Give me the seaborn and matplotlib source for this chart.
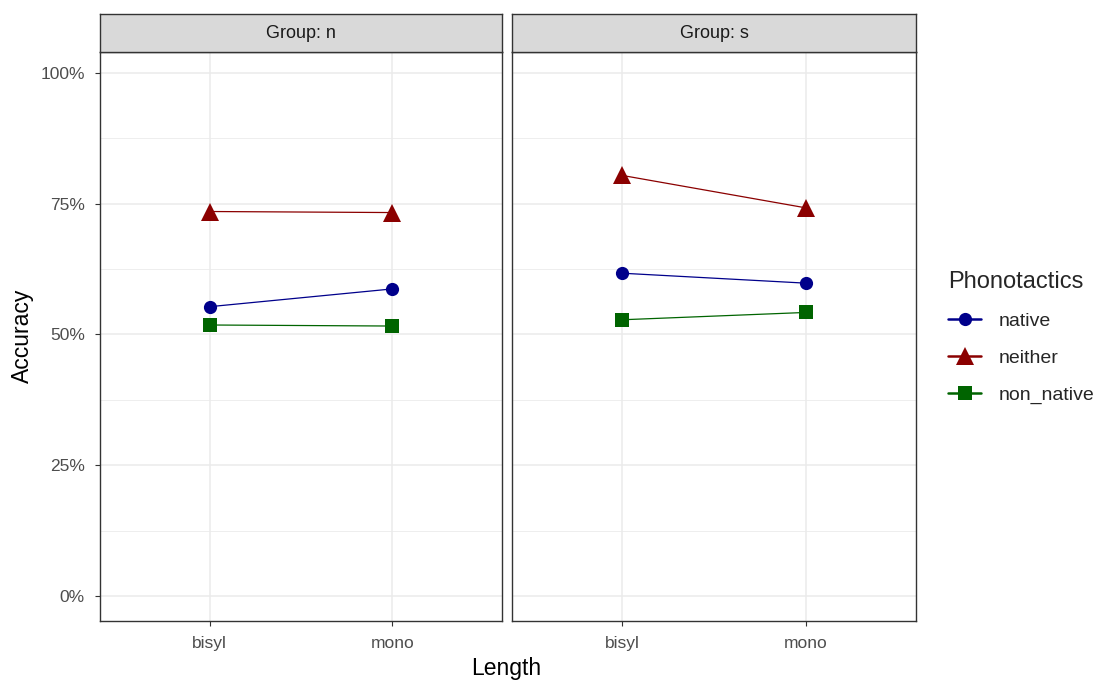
import matplotlib
matplotlib.use("Agg")
import matplotlib.pyplot as plt
import seaborn as sns
import pandas as pd
from matplotlib.lines import Line2D
from matplotlib.ticker import FixedLocator

# Mean accuracy per group, word length and phonotactic condition
groups = ["n", "s"]
lengths = ["bisyl", "mono"]
phonotactics = ["native", "neither", "non_native"]
acc_native = {"n": [0.553, 0.587], "s": [0.617, 0.598]}
acc_neither = {"n": [0.735, 0.733], "s": [0.804, 0.742]}
acc_non_native = {"n": [0.518, 0.516], "s": [0.528, 0.542]}

palette = {"native": "#00008B", "neither": "#8B0000", "non_native": "#006400"}
markers = {"native": "o", "neither": "^", "non_native": "s"}
marker_sizes = {"o": 9.5, "^": 12.5, "s": 9.5}

rows = []
for g in groups:
    for series_name, vals in (("native", acc_native), ("neither", acc_neither),
                              ("non_native", acc_non_native)):
        for length, v in zip(lengths, vals[g]):
            rows.append({"Group": g, "Length": length,
                         "Phonotactics": series_name, "Accuracy": v})
df = pd.DataFrame(rows)

sns.set_theme(style="white")
plt.rcParams["font.family"] = ["Liberation Sans", "DejaVu Sans"]

W, H = 1098, 682
fig = plt.figure(figsize=(W / 100, H / 100), dpi=100)

panel_px = [(100, 502), (512, 916)]
top_px, strip_bot_px, bot_px = 14, 52, 621
edge = "#333333"
grid_col = "#EBEBEB"

for i, (g, (x0, x1)) in enumerate(zip(groups, panel_px)):
    ax = fig.add_axes([x0 / W, 1 - bot_px / H, (x1 - x0) / W, (bot_px - strip_bot_px) / H])
    sub = df[df["Group"] == g]
    sns.pointplot(data=sub, x="Length", y="Accuracy", hue="Phonotactics",
                  order=lengths, hue_order=phonotactics, palette=palette,
                  markers=[markers[p] for p in phonotactics], linestyles="-",
                  errorbar=None, dodge=False, legend=False, ax=ax,
                  markersize=9.5, linewidth=0.9)
    for ln in ax.lines:
        m = ln.get_marker()
        if m in marker_sizes:
            ln.set_markersize(marker_sizes[m])
        ln.set_markeredgewidth(0)
    ax.set_xlim(-0.6, 1.6)
    ax.set_ylim(-0.048, 1.040)
    ax.set_facecolor("white")
    # grid: major + minor horizontal, major vertical
    ax.yaxis.set_major_locator(FixedLocator([0, 0.25, 0.5, 0.75, 1.0]))
    ax.yaxis.set_minor_locator(FixedLocator([0.125, 0.375, 0.625, 0.875]))
    ax.grid(which="major", axis="both", color=grid_col, linewidth=1.1, zorder=0)
    ax.grid(which="minor", axis="y", color=grid_col, linewidth=0.6, zorder=0)
    ax.set_axisbelow(True)
    for s in ax.spines.values():
        s.set_color(edge)
        s.set_linewidth(1.0)
    ax.tick_params(axis="both", which="major", length=3.8, width=0.8, color=edge,
                   labelsize=12.5, labelcolor="#4D4D4D", left=True, bottom=True)
    ax.tick_params(axis="y", which="major", pad=7)
    ax.tick_params(axis="x", which="major", pad=7)
    ax.tick_params(axis="y", which="minor", length=0)
    ax.set_xlabel("")
    ax.set_ylabel("")
    if i == 0:
        ax.set_yticklabels(["0%", "25%", "50%", "75%", "100%"])
    else:
        ax.tick_params(axis="y", which="major", left=False, labelleft=False)

    # facet strip
    sax = fig.add_axes([x0 / W, 1 - strip_bot_px / H, (x1 - x0) / W, (strip_bot_px - top_px) / H])
    sax.set_xticks([])
    sax.set_yticks([])
    sax.set_facecolor("#D9D9D9")
    for s in sax.spines.values():
        s.set_color(edge)
        s.set_linewidth(1.0)
    sax.text(0.5, 0.5, f"Group: {g}", ha="center", va="center",
             fontsize=13, color="#1A1A1A", transform=sax.transAxes)

fig.text(22 / W, 1 - 336 / H, "Accuracy", rotation=90, ha="center", va="center",
         fontsize=16.5, color="black")
fig.text(506 / W, 1 - 668 / H, "Length", ha="center", va="center",
         fontsize=16.5, color="black")

handles = [Line2D([0], [0], color=palette[p], marker=markers[p],
                  markersize=marker_sizes[markers[p]], markeredgewidth=0,
                  linewidth=1.8) for p in phonotactics]
leg = fig.legend(handles, phonotactics, title="Phonotactics",
                 loc="upper left", bbox_to_anchor=(948 / W, 1 - 271 / H),
                 frameon=False, fontsize=14, title_fontsize=17,
                 handlelength=1.7, handletextpad=0.9, labelspacing=1.0,
                 borderaxespad=0, borderpad=0)
leg._legend_box.align = "left"

fig.savefig("out.png", dpi=100, facecolor="white")
